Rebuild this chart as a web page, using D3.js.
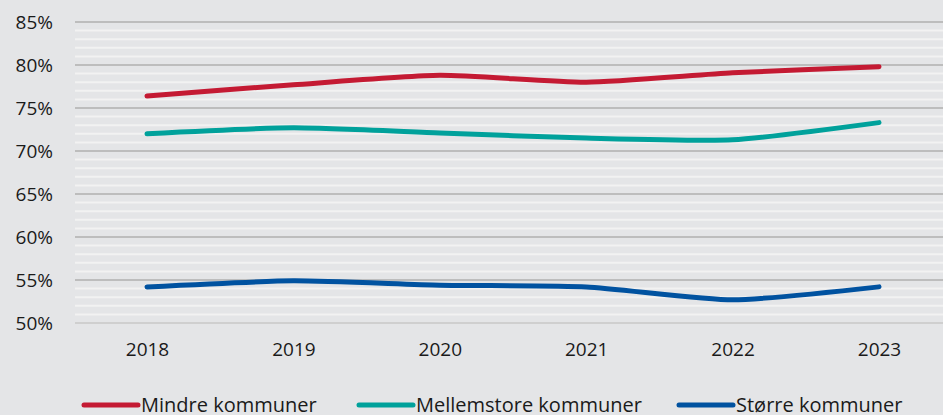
<!DOCTYPE html>
<html><head><meta charset="utf-8">
<script src="https://cdn.jsdelivr.net/npm/d3@7"></script>
<style>body{margin:0;background:#e4e5e7;}svg{display:block;font-family:"Open Sans","Noto Sans",sans-serif;}</style>
</head><body><svg id="c" width="943" height="415"></svg>
<script>
const years = ["2018","2019","2020","2021","2022","2023"];
const seriesNames = ["Mindre kommuner","Mellemstore kommuner","Større kommuner"];
const mindre = [76.4, 77.7, 78.8, 78.0, 79.1, 79.8];
const mellemstore = [72.0, 72.7, 72.1, 71.5, 71.3, 73.3];
const storre = [54.2, 54.9, 54.4, 54.2, 52.7, 54.2];
const colors = ["#c41a33","#00a19b","#0052a0"];
const yTicks = [50,55,60,65,70,75,80,85];

const svg = d3.select("#c");
svg.append("rect").attr("width",943).attr("height",415).attr("fill","#e4e5e7");
const x = d3.scalePoint().domain(years).range([147,879]);
const y = d3.scaleLinear().domain([50,85]).range([323,22]);
const left = 75, right = 943;

// minor gridlines
const minor = d3.range(50,86,1).filter(v=>v%5!==0);
svg.append("g").selectAll("line").data(minor).join("line")
  .attr("x1",left).attr("x2",right).attr("y1",d=>y(d)).attr("y2",d=>y(d))
  .attr("stroke","#f2f2f2").attr("stroke-width",2);
// major gridlines
svg.append("g").selectAll("line").data(yTicks).join("line")
  .attr("x1",left).attr("x2",right).attr("y1",d=>y(d)).attr("y2",d=>y(d))
  .attr("stroke",d=>d===50?"#cfcfcf":"#bdbdbd").attr("stroke-width",2);

// y axis labels
const yAxis = d3.axisLeft(y).tickValues(yTicks).tickFormat(d=>d+"%").tickSize(0).tickPadding(0);
const ga = svg.append("g").attr("transform","translate(53,0)").call(yAxis);
ga.select(".domain").remove();
ga.selectAll("text").attr("font-size",19).attr("fill","#1a1a1a").attr("font-family","'Open Sans','Noto Sans',sans-serif");

// x axis labels
const xAxis = d3.axisBottom(x).tickSize(0).tickPadding(0);
const gx = svg.append("g").attr("transform","translate(0,342)").call(xAxis);
gx.select(".domain").remove();
gx.selectAll("text").attr("font-size",19).attr("fill","#1a1a1a").attr("font-family","'Open Sans','Noto Sans',sans-serif");

const line = d3.line().x((d,i)=>x(years[i])).y(d=>y(d)).curve(d3.curveCardinal.tension(0.4));
[mindre, mellemstore, storre].forEach((s,i)=>{
  svg.append("path").datum(s).attr("d",line).attr("fill","none")
    .attr("stroke",colors[i]).attr("stroke-width",5).attr("stroke-linecap","round").attr("stroke-linejoin","round");
});

// legend
const legX = [84, 359, 679];
seriesNames.forEach((n,i)=>{
  const g = svg.append("g").attr("transform",`translate(${legX[i]},405)`);
  g.append("line").attr("x1",0).attr("x2",54).attr("y1",0).attr("y2",0)
    .attr("stroke",colors[i]).attr("stroke-width",5).attr("stroke-linecap","round");
  g.append("text").attr("x",57).attr("y",7).attr("font-size",20).attr("fill","#1a1a1a").text(n);
});
</script></body></html>
